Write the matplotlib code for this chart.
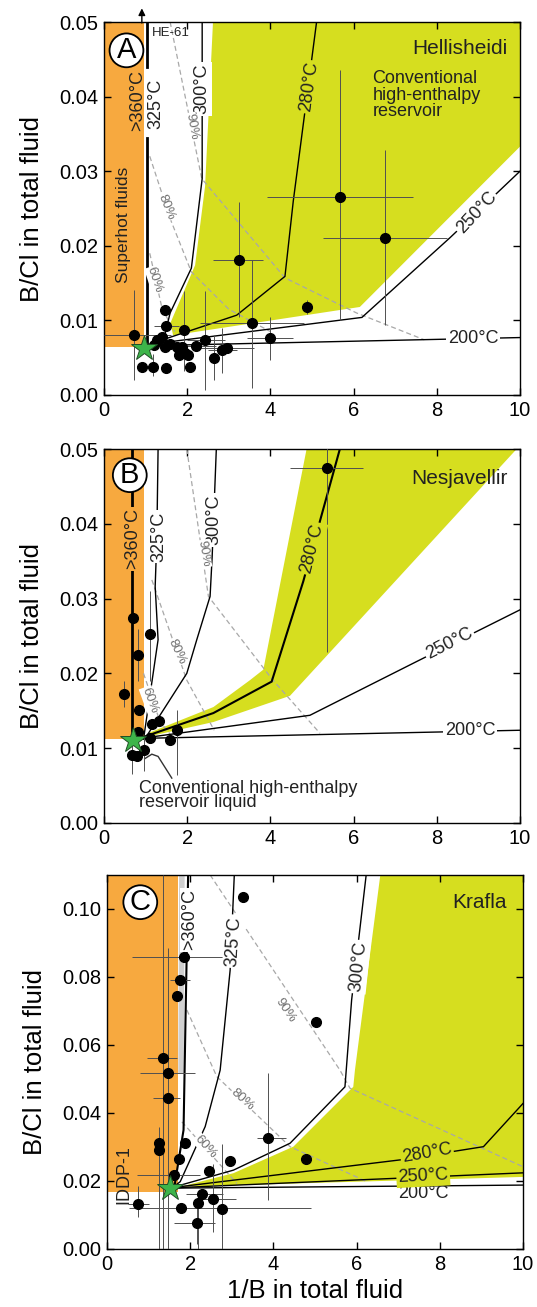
import matplotlib
matplotlib.use('Agg')
import matplotlib.pyplot as plt
import numpy as np

plt.rcParams['font.family'] = ['Liberation Sans', 'DejaVu Sans']

ORANGE = '#F7A93F'
YELLOW = '#D6DE1F'
DASH = '#A8A8A8'
ERR = '#505050'
STAR = '#3DB54A'
nan = np.nan

# ---------------- panel A : Hellisheidi ----------------
a_x   = [5.67, 6.75, 3.25, 3.55, 4.87, 3.99, 1.47, 1.50, 1.93, 2.43, 2.21, 2.65, 2.83, 2.95, 2.07,
         1.49, 0.91, 1.17, 0.72, 1.27, 1.39, 1.47, 1.75, 1.83, 1.95, 2.03, 1.80, 1.59, 1.19, 1.87]
a_y   = [0.0266, 0.0211, 0.0181, 0.0096, 0.0118, 0.0077, 0.0114, 0.0092, 0.0087, 0.0074, 0.0066,
         0.0049, 0.0060, 0.0063, 0.0038, 0.0036, 0.0038, 0.0038, 0.0080, 0.0074, 0.0078, 0.0065,
         0.0065, 0.0058, 0.0056, 0.0054, 0.0054, 0.0069, 0.0067, 0.0065]
a_xlo = [3.91, 5.27, 2.63, 2.30, 4.77, 3.43, 1.47, 1.20, 1.93, 2.00, 1.60, 2.65, 2.50, 2.30, 2.07,
         1.49, 0.91, 1.17, 0.00, 1.27, 1.39, 1.47, 1.75, 1.83, 1.95, 2.03, 1.80, 1.59, 1.19, 1.87]
a_xhi = [7.43, 8.24, 3.83, 4.80, 4.97, 4.55, 1.47, 1.80, 1.93, 2.90, 2.70, 2.65, 3.20, 3.60, 2.07,
         1.49, 0.91, 1.17, 1.60, 1.27, 1.39, 1.47, 1.75, 1.83, 1.95, 2.03, 1.80, 1.59, 1.19, 1.87]
a_ylo = [0.0101, 0.0094, 0.0105, 0.0009, 0.0108, 0.0047, 0.0114, 0.0092, 0.0032, 0.0007, 0.0066,
         0.0020, 0.0030, 0.0063, 0.0038, 0.0036, 0.0038, 0.0025, 0.0020, 0.0074, 0.0078, 0.0065,
         0.0065, 0.0058, 0.0056, 0.0054, 0.0054, 0.0069, 0.0067, 0.0065]
a_yhi = [0.0436, 0.0328, 0.0259, 0.0181, 0.0128, 0.0105, 0.0114, 0.0092, 0.0139, 0.0139, 0.0066,
         0.0080, 0.0090, 0.0063, 0.0038, 0.0036, 0.0038, 0.0055, 0.0141, 0.0074, 0.0078, 0.0065,
         0.0065, 0.0058, 0.0056, 0.0054, 0.0054, 0.0069, 0.0067, 0.0065]
a_star = (0.95, 0.0063)
a_orange = [(0, 0.0065), (0.97, 0.0065), (0.97, 0.05), (0, 0.05)]
a_yellow = [(1.66, 0.0080), (1.60, 0.0097), (2.19, 0.0174), (2.43, 0.0280), (2.62, 0.05),
            (10, 0.05), (10, 0.0333), (6.15, 0.0118)]
a_t200 = [(1.0, 0.0066), (10, 0.0077)]
a_t250 = [(1.1, 0.0068), (6.2, 0.0104), (8.32, 0.0211), (10, 0.0300)]
a_t280 = [(1.3, 0.0072), (3.19, 0.0107), (4.35, 0.0159), (4.55, 0.0260), (5.11, 0.05)]
a_t300 = [(1.45, 0.0078), (1.59, 0.0110), (2.10, 0.0170), (2.36, 0.0290), (2.36, 0.05)]
a_t325 = [(1.04, 0.0068), (1.04, 0.0345), (nan, nan), (1.04, 0.0440), (1.04, 0.05)]
a_p90 = [(1.59, 0.05), (2.35, 0.0290), (4.35, 0.0157), (6.07, 0.0110), (7.7, 0.0074)]
a_p80 = [(1.10, 0.0320), (1.60, 0.0235), (2.10, 0.0165), (3.0, 0.0115), (4.0, 0.0085)]
a_p60 = [(1.10, 0.0190), (1.40, 0.0115), (1.70, 0.0085)]

# ---------------- panel B : Nesjavellir ----------------
b_x   = [5.35, 0.70, 1.10, 0.82, 0.47, 0.85, 1.15, 1.33, 1.75, 1.59, 1.10, 0.82, 0.95, 0.67, 0.79]
b_y   = [0.0474, 0.0274, 0.0253, 0.0224, 0.0173, 0.0151, 0.0133, 0.0137, 0.0124, 0.0111, 0.0113,
         0.0122, 0.0098, 0.0091, 0.0089]
b_xlo = [4.47, 0.70, 1.10, 0.82, 0.47, 0.85, 1.15, 1.33, 1.75, 1.59, 1.10, 0.82, 0.95, 0.67, 0.79]
b_xhi = [6.23, 0.70, 1.10, 0.82, 0.47, 0.85, 1.15, 1.33, 1.75, 1.59, 1.10, 0.82, 0.95, 0.67, 0.79]
b_ylo = [0.0229, 0.0274, 0.0190, 0.0190, 0.0155, 0.0151, 0.0133, 0.0137, 0.0064, 0.0111, 0.0113,
         0.0122, 0.0070, 0.0065, 0.0089]
b_yhi = [0.0520, 0.0274, 0.0310, 0.0260, 0.0190, 0.0151, 0.0133, 0.0137, 0.0151, 0.0111, 0.0113,
         0.0122, 0.0115, 0.0110, 0.0089]
b_star = (0.70, 0.0111)
b_orange = [(0, 0.0112), (0.97, 0.0112), (0.97, 0.05), (0, 0.05)]
b_yellow = [(1.1, 0.0121), (2.63, 0.0155), (3.51, 0.0191), (3.83, 0.0205), (4.87, 0.05),
            (9.92, 0.05), (4.47, 0.0170), (2.63, 0.0135), (1.1, 0.0116)]
b_t200 = [(0.8, 0.0113), (10, 0.0124)]
b_t250 = [(1.0, 0.0114), (4.95, 0.0144), (7.52, 0.0216), (10, 0.0285)]
b_t280 = [(1.0, 0.0116), (2.63, 0.0147), (4.03, 0.0189), (4.79, 0.0323), (5.67, 0.05)]
b_t300 = [(1.0, 0.0114), (1.99, 0.0200), (2.23, 0.0245), (2.55, 0.0303), (2.60, 0.0356), (2.70, 0.05)]
b_t325 = [(0.95, 0.0112), (1.30, 0.0245), (1.23, 0.0316), (1.27, 0.0380), (1.30, 0.05)]
b_t360 = [(0.68, 0.0111), (0.68, 0.05)]
b_p90 = [(1.99, 0.05), (2.51, 0.0303), (4.03, 0.0193), (5.19, 0.0120)]
b_p80 = [(1.15, 0.0325), (1.99, 0.0191), (2.65, 0.0124)]
b_p60 = [(0.95, 0.0200), (1.35, 0.0135), (1.60, 0.0118)]
b_pointer = [(0.98, 0.0086), (1.15, 0.0092), (1.30, 0.0089), (1.63, 0.0060)]

# ---------------- panel C : Krafla ----------------
c_x   = [3.26, 1.84, 1.76, 1.68, 5.02, 1.34, 1.46, 1.46, 1.24, 1.24, 1.88, 1.72, 1.60, 3.87, 2.96,
         4.79, 2.46, 0.74, 1.78, 2.28, 2.18, 2.56, 2.76, 2.16]
c_y   = [0.1034, 0.0860, 0.0791, 0.0744, 0.0667, 0.0563, 0.0517, 0.0445, 0.0311, 0.0291, 0.0311,
         0.0264, 0.0218, 0.0326, 0.0259, 0.0264, 0.0230, 0.0132, 0.0122, 0.0162, 0.0136, 0.0148,
         0.0118, 0.0076]
c_xlo = [3.26, 0.60, 1.52, 1.68, 5.02, 0.97, 0.80, 1.10, 1.24, 1.24, 1.88, 1.72, 0.72, 3.60, 2.96,
         4.79, 2.46, 0.50, 0.54, 1.90, 2.18, 2.20, 2.76, 1.60]
c_xhi = [3.26, 2.84, 2.00, 1.68, 5.02, 1.69, 2.12, 1.75, 1.24, 1.24, 1.88, 1.72, 2.24, 4.30, 2.96,
         4.79, 2.46, 1.00, 4.90, 2.80, 2.18, 3.10, 2.76, 2.60]
c_ylo = [0.1034, 0.0860, 0.0791, 0.0744, 0.0667, 0.0000, 0.0000, 0.0445, 0.0000, 0.0291, 0.0311,
         0.0264, 0.0218, 0.0144, 0.0259, 0.0264, 0.0230, 0.0095, 0.0122, 0.0162, 0.0000, 0.0050,
         0.0000, 0.0015]
c_yhi = [0.1034, 0.0860, 0.0791, 0.0744, 0.0667, 0.1100, 0.0885, 0.0445, 0.0360, 0.0291, 0.0311,
         0.0264, 0.0218, 0.0517, 0.0259, 0.0264, 0.0230, 0.0185, 0.0122, 0.0162, 0.0160, 0.0250,
         0.0310, 0.0136]
c_star = (1.52, 0.0179)
c_orange = [(0, 0.0169), (1.70, 0.0169), (1.70, 0.11), (0, 0.11)]
c_yellow = [(1.76, 0.0183), (3.04, 0.0223), (4.48, 0.0301), (5.92, 0.0477), (5.96, 0.0526),
            (6.57, 0.11), (10, 0.11), (10, 0.0212)]
c_gray = [(1.78, 0.0526), (1.80, 0.11)]
c_t200 = [(1.52, 0.0179), (10, 0.0188)]
c_t250 = [(1.6, 0.0180), (6.96, 0.0208), (10, 0.0224)]
c_t280 = [(1.6, 0.0181), (7.04, 0.0262), (9.05, 0.0301), (10, 0.0428)]
c_t300 = [(1.6, 0.0182), (3.04, 0.0232), (4.40, 0.0311), (5.72, 0.0477), (5.88, 0.0732), (6.23, 0.11)]
c_t325 = [(1.6, 0.0183), (1.76, 0.0198), (2.36, 0.0360), (2.72, 0.0526), (2.96, 0.0820), (3.06, 0.11)]
c_t360 = [(1.62, 0.0183), (1.84, 0.0350), (1.95, 0.11)]
c_p90 = [(2.48, 0.11), (5.60, 0.0526), (5.84, 0.0473), (10, 0.0242)]
c_p80 = [(1.92, 0.0703), (2.64, 0.0507), (4.40, 0.0301), (6.25, 0.0198)]
c_p60 = [(1.80, 0.0374), (3.12, 0.0193)]


def poly(ax, pts, color):
    ax.add_patch(plt.Polygon(pts, closed=True, facecolor=color, edgecolor='none', zorder=1))


def line(ax, pts, lw=1.0, color='black', dashed=False, z=3):
    xs = [p[0] for p in pts]
    ys = [p[1] for p in pts]
    if dashed:
        ax.plot(xs, ys, color=DASH, lw=0.9, dashes=(4, 2.5), zorder=2)
    else:
        ax.plot(xs, ys, color=color, lw=lw, zorder=z, solid_joinstyle='miter')


def tlab(ax, x, y, s, rot=0, bg='white', size=13, color='#222222'):
    bbox = None if bg is None else dict(facecolor=bg, edgecolor='none', pad=1.2)
    ax.text(x, y, s, rotation=rot, rotation_mode='anchor', ha='center', va='center',
            fontsize=size, color=color, bbox=bbox, zorder=5)


def plab(ax, x, y, s, rot, bg='white'):
    ax.text(x, y, s, rotation=rot, rotation_mode='anchor', ha='center', va='center',
            fontsize=9.5, color='#707070', zorder=5,
            bbox=dict(facecolor=bg, edgecolor='none', pad=0.5))


def points(ax, x, y, xlo, xhi, ylo, yhi, star):
    x = np.array(x); y = np.array(y)
    xerr = [x - np.array(xlo), np.array(xhi) - x]
    yerr = [y - np.array(ylo), np.array(yhi) - y]
    ax.errorbar(x, y, xerr=xerr, yerr=yerr, fmt='none', ecolor=ERR, elinewidth=0.7,
                capsize=0, zorder=4)
    ax.plot(x, y, 'o', color='black', ms=7, zorder=6)
    ax.plot([star[0]], [star[1]], marker='*', color=STAR, ms=19, mec='#1f4f25', mew=0.7,
            zorder=7)


def circ(ax, x, y, s):
    ax.text(x, y, s, fontsize=21, ha='center', va='center', zorder=8,
            bbox=dict(boxstyle='circle,pad=0.1', facecolor='white', edgecolor='black', lw=1.3))


def style(ax, ymax, ystep):
    ax.set_xlim(0, 10)
    ax.set_ylim(0, ymax)
    ax.set_xticks(np.arange(0, 11, 2))
    ax.set_yticks(np.arange(0, ymax + 1e-9, ystep))
    ax.yaxis.set_major_formatter(matplotlib.ticker.FormatStrFormatter('%.2f'))
    ax.tick_params(direction='in', top=True, right=True, length=5, width=1, labelsize=14.5,
                   pad=4)
    for sp in ax.spines.values():
        sp.set_linewidth(1.0)
    ax.set_ylabel('B/Cl in total fluid', fontsize=18.5, labelpad=11)


fig = plt.figure(figsize=(5.37, 13.07), dpi=100)
W, H = 537.0, 1307.0
axA = fig.add_axes([104 / W, 1 - 395 / H, 416 / W, 373 / H])
axB = fig.add_axes([104 / W, 1 - 823 / H, 416 / W, 374 / H])
axC = fig.add_axes([107 / W, 1 - 1249 / H, 416 / W, 374 / H])

# ---- A ----
ax = axA
poly(ax, a_orange, ORANGE)
poly(ax, a_yellow, YELLOW)
for p in (a_p90, a_p80, a_p60):
    line(ax, p, dashed=True)
line(ax, a_t200)
line(ax, a_t250)
line(ax, a_t280)
line(ax, a_t300)
line(ax, a_t325, lw=2.0)
points(ax, a_x, a_y, a_xlo, a_xhi, a_ylo, a_yhi, a_star)
tlab(ax, 8.87, 0.0076, '200°C')
tlab(ax, 8.96, 0.0244, '250°C', rot=47)
tlab(ax, 4.93, 0.0413, '280°C', rot=82, bg=YELLOW)
tlab(ax, 2.36, 0.0410, '300°C', rot=90)
tlab(ax, 1.25, 0.0390, '325°C', rot=90, bg=None)
tlab(ax, 0.82, 0.0395, '>360°C', rot=90, bg=None)
plab(ax, 2.10, 0.0360, '90%', -80)
plab(ax, 1.50, 0.0252, '80%', -68)
plab(ax, 1.22, 0.0154, '60%', -72)
ax.text(0.46, 0.0228, 'Superhot fluids', rotation=90, ha='center', va='center', fontsize=12.5,
        color='#222222', zorder=5)
ax.text(1.15, 0.0485, 'HE-61', fontsize=9.5, ha='left', va='center', color='#222222', zorder=5)
ax.annotate('', xy=(0.91, 0.0522), xytext=(0.91, 0.0495), annotation_clip=False,
            arrowprops=dict(arrowstyle='-|>', color='black', lw=1.0, mutation_scale=10))
ax.text(9.7, 0.0465, 'Hellisheidi', fontsize=15, ha='right', va='center', color='#222222')
ax.text(6.45, 0.0435, 'Conventional\nhigh-enthalpy\nreservoir', fontsize=13, ha='left', va='top',
        linespacing=0.95, color='#222222')
circ(ax, 0.54, 0.0462, 'A')
style(ax, 0.05, 0.01)

# ---- B ----
ax = axB
poly(ax, b_orange, ORANGE)
poly(ax, b_yellow, YELLOW)
for p in (b_p90, b_p80, b_p60):
    line(ax, p, dashed=True)
line(ax, b_t200)
line(ax, b_t250)
line(ax, b_t280, lw=1.5)
line(ax, b_t300)
line(ax, b_t325)
line(ax, b_t360, lw=2.0)
line(ax, b_pointer, lw=1.0, color='#333333')
points(ax, b_x, b_y, b_xlo, b_xhi, b_ylo, b_yhi, b_star)
tlab(ax, 8.8, 0.0123, '200°C')
tlab(ax, 8.3, 0.0240, '250°C', rot=27)
tlab(ax, 5.0, 0.0367, '280°C', rot=76, bg=YELLOW)
tlab(ax, 2.63, 0.0405, '300°C', rot=90)
tlab(ax, 1.31, 0.0383, '325°C', rot=90)
tlab(ax, 0.68, 0.0380, '>360°C', rot=90, bg=ORANGE)
plab(ax, 2.39, 0.0360, '90%', -80)
plab(ax, 1.75, 0.0229, '80%', -65)
plab(ax, 1.10, 0.0164, '60%', -70)
ax.text(0.83, 0.0058, 'Conventional high-enthalpy\nreservoir liquid', fontsize=13, ha='left',
        va='top', linespacing=0.78, color='#222222', zorder=5)
ax.text(9.7, 0.0460, 'Nesjavellir', fontsize=15, ha='right', va='center', color='#222222')
circ(ax, 0.62, 0.0465, 'B')
style(ax, 0.05, 0.01)

# ---- C ----
ax = axC
poly(ax, c_orange, ORANGE)
poly(ax, c_yellow, YELLOW)
line(ax, c_gray, lw=4, color='#D0D0D0', z=2)
for p in (c_p90, c_p80, c_p60):
    line(ax, p, dashed=True)
line(ax, c_t200)
line(ax, c_t250)
line(ax, c_t280)
line(ax, c_t300)
line(ax, c_t325)
line(ax, c_t360, lw=1.5)
points(ax, c_x, c_y, c_xlo, c_xhi, c_ylo, c_yhi, c_star)
tlab(ax, 7.6, 0.0162, '200°C', bg=None)
tlab(ax, 7.6, 0.0213, '250°C', rot=3, bg=YELLOW)
tlab(ax, 7.69, 0.0281, '280°C', rot=10, bg=YELLOW)
tlab(ax, 6.04, 0.0830, '300°C', rot=84)
tlab(ax, 3.05, 0.0905, '325°C', rot=86)
tlab(ax, 1.99, 0.0968, '>360°C', rot=90)
plab(ax, 4.28, 0.0703, '90%', -56)
plab(ax, 3.24, 0.0438, '80%', -42)
plab(ax, 2.36, 0.0301, '60%', -48)
ax.text(0.40, 0.0218, 'IDDP-1', rotation=90, ha='center', va='center', fontsize=13,
        color='#222222', zorder=5)
ax.text(9.6, 0.1020, 'Krafla', fontsize=15, ha='right', va='center', color='#222222')
circ(ax, 0.80, 0.1020, 'C')
style(ax, 0.11, 0.02)
ax.set_xlabel('1/B in total fluid', fontsize=18.5, labelpad=4)

fig.savefig('out.png', dpi=100)
